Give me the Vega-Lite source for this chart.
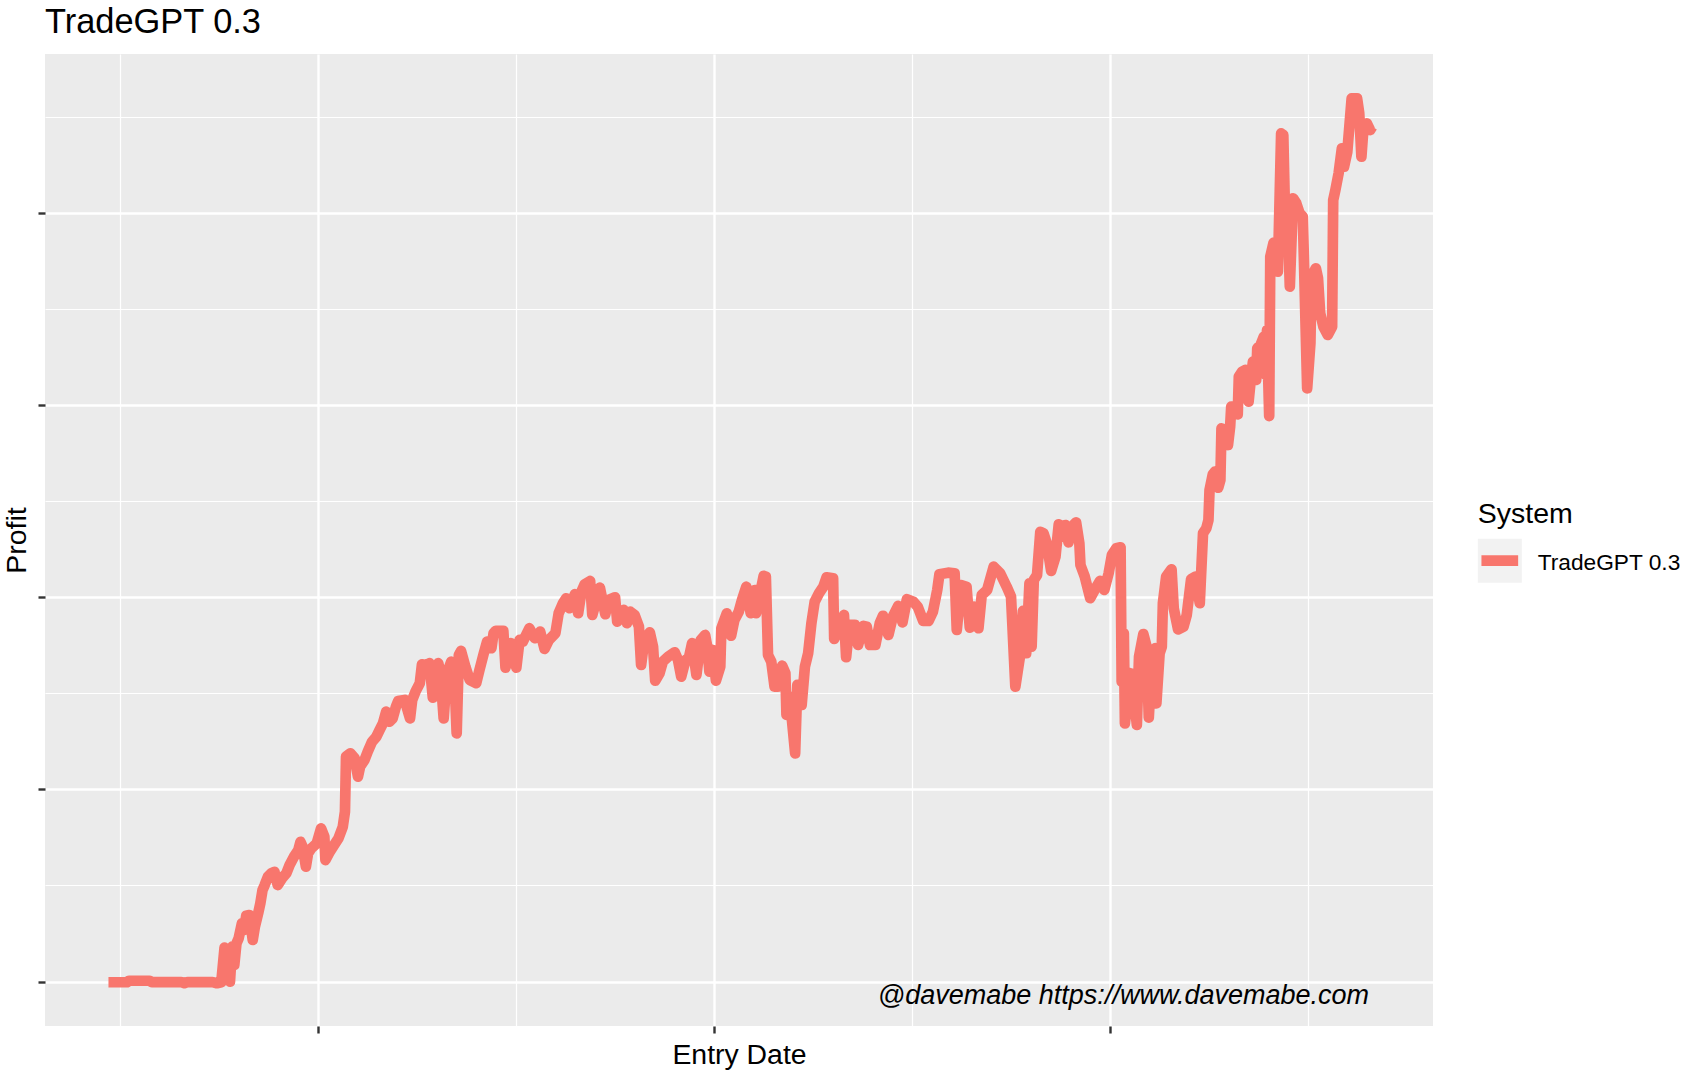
{
  "$schema": "https://vega.github.io/schema/vega-lite/v6.json",
  "autosize": "none",
  "width": 1388,
  "height": 972,
  "padding": {"left": 45, "top": 54, "right": 258, "bottom": 52},
  "background": "white",
  "title": {"text": "TradeGPT 0.3", "anchor": "start", "frame": "group", "font": "Liberation Sans", "fontSize": 34.4, "fontWeight": "normal", "color": "black", "offset": 14},
  "config": {
    "font": "Liberation Sans",
    "view": {"fill": "#EBEBEB", "stroke": null}
  },
  "data": {"values": [
    {"date":"2017-06-22","profit":-40,"System":"TradeGPT 0.3"},
    {"date":"2017-07-09","profit":-40,"System":"TradeGPT 0.3"},
    {"date":"2017-07-11","profit":40,"System":"TradeGPT 0.3"},
    {"date":"2017-07-30","profit":40,"System":"TradeGPT 0.3"},
    {"date":"2017-08-01","profit":-30,"System":"TradeGPT 0.3"},
    {"date":"2017-08-28","profit":-30,"System":"TradeGPT 0.3"},
    {"date":"2017-08-31","profit":-90,"System":"TradeGPT 0.3"},
    {"date":"2017-09-03","profit":-30,"System":"TradeGPT 0.3"},
    {"date":"2017-09-26","profit":-30,"System":"TradeGPT 0.3"},
    {"date":"2017-09-30","profit":-90,"System":"TradeGPT 0.3"},
    {"date":"2017-10-04","profit":-40,"System":"TradeGPT 0.3"},
    {"date":"2017-10-07","profit":1760,"System":"TradeGPT 0.3"},
    {"date":"2017-10-09","profit":1640,"System":"TradeGPT 0.3"},
    {"date":"2017-10-12","profit":-10,"System":"TradeGPT 0.3"},
    {"date":"2017-10-14","profit":1810,"System":"TradeGPT 0.3"},
    {"date":"2017-10-16","profit":860,"System":"TradeGPT 0.3"},
    {"date":"2017-10-18","profit":1990,"System":"TradeGPT 0.3"},
    {"date":"2017-10-20","profit":2250,"System":"TradeGPT 0.3"},
    {"date":"2017-10-23","profit":3030,"System":"TradeGPT 0.3"},
    {"date":"2017-10-25","profit":2680,"System":"TradeGPT 0.3"},
    {"date":"2017-10-27","profit":3420,"System":"TradeGPT 0.3"},
    {"date":"2017-10-30","profit":3460,"System":"TradeGPT 0.3"},
    {"date":"2017-11-02","profit":2160,"System":"TradeGPT 0.3"},
    {"date":"2017-11-04","profit":2850,"System":"TradeGPT 0.3"},
    {"date":"2017-11-07","profit":3550,"System":"TradeGPT 0.3"},
    {"date":"2017-11-09","profit":4070,"System":"TradeGPT 0.3"},
    {"date":"2017-11-11","profit":4760,"System":"TradeGPT 0.3"},
    {"date":"2017-11-13","profit":5020,"System":"TradeGPT 0.3"},
    {"date":"2017-11-16","profit":5450,"System":"TradeGPT 0.3"},
    {"date":"2017-11-19","profit":5630,"System":"TradeGPT 0.3"},
    {"date":"2017-11-22","profit":5710,"System":"TradeGPT 0.3"},
    {"date":"2017-11-25","profit":5020,"System":"TradeGPT 0.3"},
    {"date":"2017-11-29","profit":5370,"System":"TradeGPT 0.3"},
    {"date":"2017-12-03","profit":5630,"System":"TradeGPT 0.3"},
    {"date":"2017-12-06","profit":6060,"System":"TradeGPT 0.3"},
    {"date":"2017-12-10","profit":6490,"System":"TradeGPT 0.3"},
    {"date":"2017-12-14","profit":6840,"System":"TradeGPT 0.3"},
    {"date":"2017-12-16","profit":7270,"System":"TradeGPT 0.3"},
    {"date":"2017-12-18","profit":7010,"System":"TradeGPT 0.3"},
    {"date":"2017-12-21","profit":5970,"System":"TradeGPT 0.3"},
    {"date":"2017-12-23","profit":6670,"System":"TradeGPT 0.3"},
    {"date":"2017-12-26","profit":6930,"System":"TradeGPT 0.3"},
    {"date":"2017-12-31","profit":7190,"System":"TradeGPT 0.3"},
    {"date":"2018-01-04","profit":7970,"System":"TradeGPT 0.3"},
    {"date":"2018-01-07","profit":7530,"System":"TradeGPT 0.3"},
    {"date":"2018-01-08","profit":6320,"System":"TradeGPT 0.3"},
    {"date":"2018-01-12","profit":6750,"System":"TradeGPT 0.3"},
    {"date":"2018-01-17","profit":7190,"System":"TradeGPT 0.3"},
    {"date":"2018-01-20","profit":7450,"System":"TradeGPT 0.3"},
    {"date":"2018-01-24","profit":8050,"System":"TradeGPT 0.3"},
    {"date":"2018-01-26","profit":8830,"System":"TradeGPT 0.3"},
    {"date":"2018-01-27","profit":11700,"System":"TradeGPT 0.3"},
    {"date":"2018-01-31","profit":11870,"System":"TradeGPT 0.3"},
    {"date":"2018-02-04","profit":11610,"System":"TradeGPT 0.3"},
    {"date":"2018-02-07","profit":10660,"System":"TradeGPT 0.3"},
    {"date":"2018-02-09","profit":11180,"System":"TradeGPT 0.3"},
    {"date":"2018-02-13","profit":11520,"System":"TradeGPT 0.3"},
    {"date":"2018-02-16","profit":11960,"System":"TradeGPT 0.3"},
    {"date":"2018-02-20","profit":12480,"System":"TradeGPT 0.3"},
    {"date":"2018-02-24","profit":12740,"System":"TradeGPT 0.3"},
    {"date":"2018-02-27","profit":13090,"System":"TradeGPT 0.3"},
    {"date":"2018-03-02","profit":13430,"System":"TradeGPT 0.3"},
    {"date":"2018-03-05","profit":14040,"System":"TradeGPT 0.3"},
    {"date":"2018-03-08","profit":13520,"System":"TradeGPT 0.3"},
    {"date":"2018-03-11","profit":13690,"System":"TradeGPT 0.3"},
    {"date":"2018-03-14","profit":14300,"System":"TradeGPT 0.3"},
    {"date":"2018-03-16","profit":14590,"System":"TradeGPT 0.3"},
    {"date":"2018-03-22","profit":14650,"System":"TradeGPT 0.3"},
    {"date":"2018-03-27","profit":13690,"System":"TradeGPT 0.3"},
    {"date":"2018-03-29","profit":14650,"System":"TradeGPT 0.3"},
    {"date":"2018-04-01","profit":15080,"System":"TradeGPT 0.3"},
    {"date":"2018-04-05","profit":15520,"System":"TradeGPT 0.3"},
    {"date":"2018-04-07","profit":16500,"System":"TradeGPT 0.3"},
    {"date":"2018-04-11","profit":16470,"System":"TradeGPT 0.3"},
    {"date":"2018-04-14","profit":16560,"System":"TradeGPT 0.3"},
    {"date":"2018-04-17","profit":14770,"System":"TradeGPT 0.3"},
    {"date":"2018-04-20","profit":16380,"System":"TradeGPT 0.3"},
    {"date":"2018-04-22","profit":16560,"System":"TradeGPT 0.3"},
    {"date":"2018-04-24","profit":16040,"System":"TradeGPT 0.3"},
    {"date":"2018-04-27","profit":13690,"System":"TradeGPT 0.3"},
    {"date":"2018-04-30","profit":16040,"System":"TradeGPT 0.3"},
    {"date":"2018-05-04","profit":16640,"System":"TradeGPT 0.3"},
    {"date":"2018-05-07","profit":15690,"System":"TradeGPT 0.3"},
    {"date":"2018-05-09","profit":12910,"System":"TradeGPT 0.3"},
    {"date":"2018-05-11","profit":16990,"System":"TradeGPT 0.3"},
    {"date":"2018-05-13","profit":17200,"System":"TradeGPT 0.3"},
    {"date":"2018-05-17","profit":16380,"System":"TradeGPT 0.3"},
    {"date":"2018-05-21","profit":15690,"System":"TradeGPT 0.3"},
    {"date":"2018-05-27","profit":15520,"System":"TradeGPT 0.3"},
    {"date":"2018-05-30","profit":16210,"System":"TradeGPT 0.3"},
    {"date":"2018-06-03","profit":17080,"System":"TradeGPT 0.3"},
    {"date":"2018-06-06","profit":17680,"System":"TradeGPT 0.3"},
    {"date":"2018-06-10","profit":17340,"System":"TradeGPT 0.3"},
    {"date":"2018-06-12","profit":18120,"System":"TradeGPT 0.3"},
    {"date":"2018-06-14","profit":18250,"System":"TradeGPT 0.3"},
    {"date":"2018-06-21","profit":18250,"System":"TradeGPT 0.3"},
    {"date":"2018-06-23","profit":16330,"System":"TradeGPT 0.3"},
    {"date":"2018-06-28","profit":17600,"System":"TradeGPT 0.3"},
    {"date":"2018-07-03","profit":16330,"System":"TradeGPT 0.3"},
    {"date":"2018-07-06","profit":17770,"System":"TradeGPT 0.3"},
    {"date":"2018-07-09","profit":17680,"System":"TradeGPT 0.3"},
    {"date":"2018-07-15","profit":18380,"System":"TradeGPT 0.3"},
    {"date":"2018-07-20","profit":17860,"System":"TradeGPT 0.3"},
    {"date":"2018-07-25","profit":18200,"System":"TradeGPT 0.3"},
    {"date":"2018-07-29","profit":17300,"System":"TradeGPT 0.3"},
    {"date":"2018-08-02","profit":17770,"System":"TradeGPT 0.3"},
    {"date":"2018-08-08","profit":18120,"System":"TradeGPT 0.3"},
    {"date":"2018-08-11","profit":19160,"System":"TradeGPT 0.3"},
    {"date":"2018-08-15","profit":19680,"System":"TradeGPT 0.3"},
    {"date":"2018-08-18","profit":19940,"System":"TradeGPT 0.3"},
    {"date":"2018-08-21","profit":19420,"System":"TradeGPT 0.3"},
    {"date":"2018-08-26","profit":20150,"System":"TradeGPT 0.3"},
    {"date":"2018-08-29","profit":19160,"System":"TradeGPT 0.3"},
    {"date":"2018-09-01","profit":20280,"System":"TradeGPT 0.3"},
    {"date":"2018-09-04","profit":20670,"System":"TradeGPT 0.3"},
    {"date":"2018-09-09","profit":20840,"System":"TradeGPT 0.3"},
    {"date":"2018-09-11","profit":19070,"System":"TradeGPT 0.3"},
    {"date":"2018-09-18","profit":20490,"System":"TradeGPT 0.3"},
    {"date":"2018-09-23","profit":19110,"System":"TradeGPT 0.3"},
    {"date":"2018-09-26","profit":19850,"System":"TradeGPT 0.3"},
    {"date":"2018-10-02","profit":19990,"System":"TradeGPT 0.3"},
    {"date":"2018-10-04","profit":18720,"System":"TradeGPT 0.3"},
    {"date":"2018-10-07","profit":19240,"System":"TradeGPT 0.3"},
    {"date":"2018-10-10","profit":19330,"System":"TradeGPT 0.3"},
    {"date":"2018-10-13","profit":18640,"System":"TradeGPT 0.3"},
    {"date":"2018-10-16","profit":19240,"System":"TradeGPT 0.3"},
    {"date":"2018-10-20","profit":19070,"System":"TradeGPT 0.3"},
    {"date":"2018-10-24","profit":18460,"System":"TradeGPT 0.3"},
    {"date":"2018-10-26","profit":16470,"System":"TradeGPT 0.3"},
    {"date":"2018-10-29","profit":17770,"System":"TradeGPT 0.3"},
    {"date":"2018-11-03","profit":18170,"System":"TradeGPT 0.3"},
    {"date":"2018-11-06","profit":17420,"System":"TradeGPT 0.3"},
    {"date":"2018-11-08","profit":15650,"System":"TradeGPT 0.3"},
    {"date":"2018-11-12","profit":16040,"System":"TradeGPT 0.3"},
    {"date":"2018-11-15","profit":16640,"System":"TradeGPT 0.3"},
    {"date":"2018-11-20","profit":16900,"System":"TradeGPT 0.3"},
    {"date":"2018-11-26","profit":17130,"System":"TradeGPT 0.3"},
    {"date":"2018-11-29","profit":16730,"System":"TradeGPT 0.3"},
    {"date":"2018-12-02","profit":15860,"System":"TradeGPT 0.3"},
    {"date":"2018-12-06","profit":16730,"System":"TradeGPT 0.3"},
    {"date":"2018-12-09","profit":16820,"System":"TradeGPT 0.3"},
    {"date":"2018-12-12","profit":17600,"System":"TradeGPT 0.3"},
    {"date":"2018-12-16","profit":15950,"System":"TradeGPT 0.3"},
    {"date":"2018-12-20","profit":17770,"System":"TradeGPT 0.3"},
    {"date":"2018-12-24","profit":18030,"System":"TradeGPT 0.3"},
    {"date":"2018-12-26","profit":17420,"System":"TradeGPT 0.3"},
    {"date":"2018-12-28","profit":16120,"System":"TradeGPT 0.3"},
    {"date":"2018-12-31","profit":17250,"System":"TradeGPT 0.3"},
    {"date":"2019-01-03","profit":15650,"System":"TradeGPT 0.3"},
    {"date":"2019-01-07","profit":16380,"System":"TradeGPT 0.3"},
    {"date":"2019-01-08","profit":18380,"System":"TradeGPT 0.3"},
    {"date":"2019-01-13","profit":19160,"System":"TradeGPT 0.3"},
    {"date":"2019-01-17","profit":17990,"System":"TradeGPT 0.3"},
    {"date":"2019-01-20","profit":18810,"System":"TradeGPT 0.3"},
    {"date":"2019-01-24","profit":19240,"System":"TradeGPT 0.3"},
    {"date":"2019-01-27","profit":19850,"System":"TradeGPT 0.3"},
    {"date":"2019-01-31","profit":20540,"System":"TradeGPT 0.3"},
    {"date":"2019-02-04","profit":19160,"System":"TradeGPT 0.3"},
    {"date":"2019-02-08","profit":20370,"System":"TradeGPT 0.3"},
    {"date":"2019-02-09","profit":19160,"System":"TradeGPT 0.3"},
    {"date":"2019-02-16","profit":21110,"System":"TradeGPT 0.3"},
    {"date":"2019-02-18","profit":21060,"System":"TradeGPT 0.3"},
    {"date":"2019-02-20","profit":16990,"System":"TradeGPT 0.3"},
    {"date":"2019-02-23","profit":16640,"System":"TradeGPT 0.3"},
    {"date":"2019-02-26","profit":15340,"System":"TradeGPT 0.3"},
    {"date":"2019-03-01","profit":15340,"System":"TradeGPT 0.3"},
    {"date":"2019-03-05","profit":16430,"System":"TradeGPT 0.3"},
    {"date":"2019-03-08","profit":16040,"System":"TradeGPT 0.3"},
    {"date":"2019-03-09","profit":13870,"System":"TradeGPT 0.3"},
    {"date":"2019-03-12","profit":14820,"System":"TradeGPT 0.3"},
    {"date":"2019-03-17","profit":11870,"System":"TradeGPT 0.3"},
    {"date":"2019-03-19","profit":15430,"System":"TradeGPT 0.3"},
    {"date":"2019-03-23","profit":14390,"System":"TradeGPT 0.3"},
    {"date":"2019-03-26","profit":16380,"System":"TradeGPT 0.3"},
    {"date":"2019-03-29","profit":17080,"System":"TradeGPT 0.3"},
    {"date":"2019-04-01","profit":18640,"System":"TradeGPT 0.3"},
    {"date":"2019-04-04","profit":19760,"System":"TradeGPT 0.3"},
    {"date":"2019-04-08","profit":20200,"System":"TradeGPT 0.3"},
    {"date":"2019-04-12","profit":20540,"System":"TradeGPT 0.3"},
    {"date":"2019-04-15","profit":21030,"System":"TradeGPT 0.3"},
    {"date":"2019-04-21","profit":20980,"System":"TradeGPT 0.3"},
    {"date":"2019-04-22","profit":17820,"System":"TradeGPT 0.3"},
    {"date":"2019-04-26","profit":18290,"System":"TradeGPT 0.3"},
    {"date":"2019-05-01","profit":19070,"System":"TradeGPT 0.3"},
    {"date":"2019-05-03","profit":16870,"System":"TradeGPT 0.3"},
    {"date":"2019-05-06","profit":18550,"System":"TradeGPT 0.3"},
    {"date":"2019-05-11","profit":18550,"System":"TradeGPT 0.3"},
    {"date":"2019-05-14","profit":17510,"System":"TradeGPT 0.3"},
    {"date":"2019-05-19","profit":18500,"System":"TradeGPT 0.3"},
    {"date":"2019-05-22","profit":18460,"System":"TradeGPT 0.3"},
    {"date":"2019-05-25","profit":17510,"System":"TradeGPT 0.3"},
    {"date":"2019-05-30","profit":17510,"System":"TradeGPT 0.3"},
    {"date":"2019-06-03","profit":18640,"System":"TradeGPT 0.3"},
    {"date":"2019-06-06","profit":19030,"System":"TradeGPT 0.3"},
    {"date":"2019-06-11","profit":18030,"System":"TradeGPT 0.3"},
    {"date":"2019-06-15","profit":18980,"System":"TradeGPT 0.3"},
    {"date":"2019-06-20","profit":19540,"System":"TradeGPT 0.3"},
    {"date":"2019-06-24","profit":18690,"System":"TradeGPT 0.3"},
    {"date":"2019-06-28","profit":19890,"System":"TradeGPT 0.3"},
    {"date":"2019-07-04","profit":19760,"System":"TradeGPT 0.3"},
    {"date":"2019-07-08","profit":19500,"System":"TradeGPT 0.3"},
    {"date":"2019-07-13","profit":18760,"System":"TradeGPT 0.3"},
    {"date":"2019-07-18","profit":18760,"System":"TradeGPT 0.3"},
    {"date":"2019-07-22","profit":19240,"System":"TradeGPT 0.3"},
    {"date":"2019-07-26","profit":20370,"System":"TradeGPT 0.3"},
    {"date":"2019-07-28","profit":21190,"System":"TradeGPT 0.3"},
    {"date":"2019-08-05","profit":21270,"System":"TradeGPT 0.3"},
    {"date":"2019-08-11","profit":21240,"System":"TradeGPT 0.3"},
    {"date":"2019-08-13","profit":18290,"System":"TradeGPT 0.3"},
    {"date":"2019-08-17","profit":20630,"System":"TradeGPT 0.3"},
    {"date":"2019-08-22","profit":20540,"System":"TradeGPT 0.3"},
    {"date":"2019-08-25","profit":18410,"System":"TradeGPT 0.3"},
    {"date":"2019-08-29","profit":19500,"System":"TradeGPT 0.3"},
    {"date":"2019-09-02","profit":18380,"System":"TradeGPT 0.3"},
    {"date":"2019-09-05","profit":20110,"System":"TradeGPT 0.3"},
    {"date":"2019-09-10","profit":20370,"System":"TradeGPT 0.3"},
    {"date":"2019-09-16","profit":21580,"System":"TradeGPT 0.3"},
    {"date":"2019-09-22","profit":21240,"System":"TradeGPT 0.3"},
    {"date":"2019-09-28","profit":20540,"System":"TradeGPT 0.3"},
    {"date":"2019-10-02","profit":20020,"System":"TradeGPT 0.3"},
    {"date":"2019-10-06","profit":15340,"System":"TradeGPT 0.3"},
    {"date":"2019-10-10","profit":16820,"System":"TradeGPT 0.3"},
    {"date":"2019-10-13","profit":19280,"System":"TradeGPT 0.3"},
    {"date":"2019-10-16","profit":17080,"System":"TradeGPT 0.3"},
    {"date":"2019-10-19","profit":20720,"System":"TradeGPT 0.3"},
    {"date":"2019-10-21","profit":17420,"System":"TradeGPT 0.3"},
    {"date":"2019-10-23","profit":20890,"System":"TradeGPT 0.3"},
    {"date":"2019-10-26","profit":21150,"System":"TradeGPT 0.3"},
    {"date":"2019-10-29","profit":23400,"System":"TradeGPT 0.3"},
    {"date":"2019-11-01","profit":23320,"System":"TradeGPT 0.3"},
    {"date":"2019-11-04","profit":22800,"System":"TradeGPT 0.3"},
    {"date":"2019-11-08","profit":21360,"System":"TradeGPT 0.3"},
    {"date":"2019-11-12","profit":22100,"System":"TradeGPT 0.3"},
    {"date":"2019-11-15","profit":23790,"System":"TradeGPT 0.3"},
    {"date":"2019-11-18","profit":23140,"System":"TradeGPT 0.3"},
    {"date":"2019-11-21","profit":23750,"System":"TradeGPT 0.3"},
    {"date":"2019-11-24","profit":22850,"System":"TradeGPT 0.3"},
    {"date":"2019-11-27","profit":23660,"System":"TradeGPT 0.3"},
    {"date":"2019-12-01","profit":23890,"System":"TradeGPT 0.3"},
    {"date":"2019-12-04","profit":22800,"System":"TradeGPT 0.3"},
    {"date":"2019-12-05","profit":21670,"System":"TradeGPT 0.3"},
    {"date":"2019-12-09","profit":21060,"System":"TradeGPT 0.3"},
    {"date":"2019-12-14","profit":19940,"System":"TradeGPT 0.3"},
    {"date":"2019-12-19","profit":20460,"System":"TradeGPT 0.3"},
    {"date":"2019-12-23","profit":20840,"System":"TradeGPT 0.3"},
    {"date":"2019-12-27","profit":20370,"System":"TradeGPT 0.3"},
    {"date":"2019-12-31","profit":21240,"System":"TradeGPT 0.3"},
    {"date":"2020-01-03","profit":22190,"System":"TradeGPT 0.3"},
    {"date":"2020-01-07","profit":22540,"System":"TradeGPT 0.3"},
    {"date":"2020-01-11","profit":22590,"System":"TradeGPT 0.3"},
    {"date":"2020-01-12","profit":15600,"System":"TradeGPT 0.3"},
    {"date":"2020-01-14","profit":18120,"System":"TradeGPT 0.3"},
    {"date":"2020-01-15","profit":13430,"System":"TradeGPT 0.3"},
    {"date":"2020-01-20","profit":16040,"System":"TradeGPT 0.3"},
    {"date":"2020-01-23","profit":15000,"System":"TradeGPT 0.3"},
    {"date":"2020-01-26","profit":13350,"System":"TradeGPT 0.3"},
    {"date":"2020-01-28","profit":16900,"System":"TradeGPT 0.3"},
    {"date":"2020-02-01","profit":18080,"System":"TradeGPT 0.3"},
    {"date":"2020-02-04","profit":17420,"System":"TradeGPT 0.3"},
    {"date":"2020-02-06","profit":13730,"System":"TradeGPT 0.3"},
    {"date":"2020-02-09","profit":16900,"System":"TradeGPT 0.3"},
    {"date":"2020-02-12","profit":17340,"System":"TradeGPT 0.3"},
    {"date":"2020-02-13","profit":14470,"System":"TradeGPT 0.3"},
    {"date":"2020-02-16","profit":17080,"System":"TradeGPT 0.3"},
    {"date":"2020-02-18","profit":17420,"System":"TradeGPT 0.3"},
    {"date":"2020-02-19","profit":19680,"System":"TradeGPT 0.3"},
    {"date":"2020-02-22","profit":21060,"System":"TradeGPT 0.3"},
    {"date":"2020-02-27","profit":21450,"System":"TradeGPT 0.3"},
    {"date":"2020-02-29","profit":19420,"System":"TradeGPT 0.3"},
    {"date":"2020-03-04","profit":18320,"System":"TradeGPT 0.3"},
    {"date":"2020-03-09","profit":18460,"System":"TradeGPT 0.3"},
    {"date":"2020-03-12","profit":19070,"System":"TradeGPT 0.3"},
    {"date":"2020-03-16","profit":20930,"System":"TradeGPT 0.3"},
    {"date":"2020-03-20","profit":21060,"System":"TradeGPT 0.3"},
    {"date":"2020-03-24","profit":19680,"System":"TradeGPT 0.3"},
    {"date":"2020-03-27","profit":23320,"System":"TradeGPT 0.3"},
    {"date":"2020-03-30","profit":23580,"System":"TradeGPT 0.3"},
    {"date":"2020-04-01","profit":24010,"System":"TradeGPT 0.3"},
    {"date":"2020-04-02","profit":25570,"System":"TradeGPT 0.3"},
    {"date":"2020-04-05","profit":26390,"System":"TradeGPT 0.3"},
    {"date":"2020-04-07","profit":26530,"System":"TradeGPT 0.3"},
    {"date":"2020-04-10","profit":25690,"System":"TradeGPT 0.3"},
    {"date":"2020-04-12","profit":26090,"System":"TradeGPT 0.3"},
    {"date":"2020-04-13","profit":28780,"System":"TradeGPT 0.3"},
    {"date":"2020-04-17","profit":28690,"System":"TradeGPT 0.3"},
    {"date":"2020-04-19","profit":27910,"System":"TradeGPT 0.3"},
    {"date":"2020-04-21","profit":28870,"System":"TradeGPT 0.3"},
    {"date":"2020-04-22","profit":29910,"System":"TradeGPT 0.3"},
    {"date":"2020-04-26","profit":29910,"System":"TradeGPT 0.3"},
    {"date":"2020-04-28","profit":29510,"System":"TradeGPT 0.3"},
    {"date":"2020-04-29","profit":31470,"System":"TradeGPT 0.3"},
    {"date":"2020-05-02","profit":31730,"System":"TradeGPT 0.3"},
    {"date":"2020-05-05","profit":31820,"System":"TradeGPT 0.3"},
    {"date":"2020-05-08","profit":30170,"System":"TradeGPT 0.3"},
    {"date":"2020-05-10","profit":31300,"System":"TradeGPT 0.3"},
    {"date":"2020-05-12","profit":32250,"System":"TradeGPT 0.3"},
    {"date":"2020-05-15","profit":31300,"System":"TradeGPT 0.3"},
    {"date":"2020-05-16","profit":32950,"System":"TradeGPT 0.3"},
    {"date":"2020-05-19","profit":33120,"System":"TradeGPT 0.3"},
    {"date":"2020-05-22","profit":33550,"System":"TradeGPT 0.3"},
    {"date":"2020-05-23","profit":31590,"System":"TradeGPT 0.3"},
    {"date":"2020-05-25","profit":33900,"System":"TradeGPT 0.3"},
    {"date":"2020-05-27","profit":29420,"System":"TradeGPT 0.3"},
    {"date":"2020-05-28","profit":37710,"System":"TradeGPT 0.3"},
    {"date":"2020-05-31","profit":38440,"System":"TradeGPT 0.3"},
    {"date":"2020-06-03","profit":38230,"System":"TradeGPT 0.3"},
    {"date":"2020-06-04","profit":36930,"System":"TradeGPT 0.3"},
    {"date":"2020-06-07","profit":44130,"System":"TradeGPT 0.3"},
    {"date":"2020-06-09","profit":44040,"System":"TradeGPT 0.3"},
    {"date":"2020-06-11","profit":38930,"System":"TradeGPT 0.3"},
    {"date":"2020-06-13","profit":39970,"System":"TradeGPT 0.3"},
    {"date":"2020-06-15","profit":36150,"System":"TradeGPT 0.3"},
    {"date":"2020-06-18","profit":40750,"System":"TradeGPT 0.3"},
    {"date":"2020-06-21","profit":40490,"System":"TradeGPT 0.3"},
    {"date":"2020-06-24","profit":39970,"System":"TradeGPT 0.3"},
    {"date":"2020-06-27","profit":39790,"System":"TradeGPT 0.3"},
    {"date":"2020-07-01","profit":30860,"System":"TradeGPT 0.3"},
    {"date":"2020-07-04","profit":33210,"System":"TradeGPT 0.3"},
    {"date":"2020-07-05","profit":36670,"System":"TradeGPT 0.3"},
    {"date":"2020-07-09","profit":37110,"System":"TradeGPT 0.3"},
    {"date":"2020-07-11","profit":36590,"System":"TradeGPT 0.3"},
    {"date":"2020-07-13","profit":34770,"System":"TradeGPT 0.3"},
    {"date":"2020-07-16","profit":34070,"System":"TradeGPT 0.3"},
    {"date":"2020-07-20","profit":33640,"System":"TradeGPT 0.3"},
    {"date":"2020-07-24","profit":34070,"System":"TradeGPT 0.3"},
    {"date":"2020-07-25","profit":40660,"System":"TradeGPT 0.3"},
    {"date":"2020-07-27","profit":41180,"System":"TradeGPT 0.3"},
    {"date":"2020-07-30","profit":42050,"System":"TradeGPT 0.3"},
    {"date":"2020-08-02","profit":43350,"System":"TradeGPT 0.3"},
    {"date":"2020-08-04","profit":42390,"System":"TradeGPT 0.3"},
    {"date":"2020-08-07","profit":43170,"System":"TradeGPT 0.3"},
    {"date":"2020-08-11","profit":45950,"System":"TradeGPT 0.3"},
    {"date":"2020-08-16","profit":45950,"System":"TradeGPT 0.3"},
    {"date":"2020-08-18","profit":45170,"System":"TradeGPT 0.3"},
    {"date":"2020-08-20","profit":42910,"System":"TradeGPT 0.3"},
    {"date":"2020-08-22","profit":44480,"System":"TradeGPT 0.3"},
    {"date":"2020-08-25","profit":44650,"System":"TradeGPT 0.3"},
    {"date":"2020-08-28","profit":44300,"System":"TradeGPT 0.3"},
    {"date":"2020-08-30","profit":44480,"System":"TradeGPT 0.3"}
  ]},
  "encoding": {
    "x": {
      "field": "date", "type": "temporal",
      "scale": {"type": "utc", "domain": [{"year": 2017, "month": 4, "date": 24, "hours": 12, "utc": true}, {"year": 2020, "month": 10, "date": 25, "utc": true}], "nice": false},
      "axis": {
        "title": "Entry Date",
        "values": [
          {"year": 2017, "month": 7, "date": 2, "hours": 12, "utc": true},
          {"year": 2018, "month": 1, "date": 1, "utc": true},
          {"year": 2018, "month": 7, "date": 2, "hours": 12, "utc": true},
          {"year": 2019, "month": 1, "date": 1, "utc": true},
          {"year": 2019, "month": 7, "date": 2, "hours": 12, "utc": true},
          {"year": 2020, "month": 1, "date": 1, "utc": true},
          {"year": 2020, "month": 7, "date": 2, "utc": true}
        ],
        "labels": false,
        "domain": false,
        "grid": true,
        "gridColor": "white",
        "gridOpacity": 1,
        "gridWidth": {"condition": {"test": "utcmonth(datum.value) === 0", "value": 2.4}, "value": 1.2},
        "ticks": true,
        "tickColor": "#333333",
        "tickWidth": 2.4,
        "tickSize": 7,
        "tickOpacity": {"condition": {"test": "utcmonth(datum.value) === 0", "value": 1}, "value": 0},
        "titleFont": "Liberation Sans",
        "titleFontSize": 28.4,
        "titleFontWeight": "normal",
        "titleColor": "black",
        "titleAlign": "center",
        "titleBaseline": "alphabetic",
        "titleX": 694,
        "titleY": 37.5
      }
    },
    "y": {
      "field": "profit", "type": "quantitative",
      "scale": {"domain": [-2315, 48257], "nice": false, "zero": false},
      "axis": {
        "title": "Profit",
        "values": [0, 5000, 10000, 15000, 20000, 25000, 30000, 35000, 40000, 45000],
        "labels": false,
        "domain": false,
        "grid": true,
        "gridColor": "white",
        "gridOpacity": 1,
        "gridWidth": {"condition": {"test": "datum.value % 10000 === 0", "value": 2.4}, "value": 1.2},
        "ticks": true,
        "tickColor": "#333333",
        "tickWidth": 2.4,
        "tickSize": 7,
        "tickOpacity": {"condition": {"test": "datum.value % 10000 === 0", "value": 1}, "value": 0},
        "titleFont": "Liberation Sans",
        "titleFontSize": 28.4,
        "titleFontWeight": "normal",
        "titleColor": "black",
        "titleAngle": 270,
        "titleAlign": "center",
        "titleBaseline": "alphabetic",
        "titleX": -20,
        "titleY": 486
      }
    }
  },
  "layer": [
    {
      "data": {"values": [{"date": "2020-08-30", "profit": 44480, "Key": "TradeGPT 0.3"}]},
      "mark": {"type": "point", "filled": true, "opacity": 0, "size": 4},
      "encoding": {
        "fill": {
          "field": "Key", "type": "nominal",
          "scale": {"range": ["#F2F2F2"]},
          "legend": {
            "orient": "none", "legendX": 1432.8, "legendY": 445.8, "zindex": 0,
            "padding": 0, "offset": 0,
            "title": "System",
            "titleFont": "Liberation Sans", "titleFontSize": 28.5, "titleFontWeight": "normal", "titleColor": "black",
            "titlePadding": 10.4,
            "symbolType": "square", "symbolSize": 1936, "symbolStrokeWidth": 0, "symbolStrokeColor": "transparent", "symbolOpacity": 1, "symbolFillColor": "#F2F2F2",
            "labelFont": "Liberation Sans", "labelFontSize": 22.7, "labelColor": "black", "labelOffset": 16,
            "encode": {"symbols": {"update": {"opacity": {"value": 1}, "fill": {"value": "#F2F2F2"}, "fillOpacity": {"value": 1}}}, "labels": {"update": {"dy": {"value": 2.5}}}}
          }
        }
      }
    },
    {
      "mark": {"type": "line", "strokeWidth": 10.7, "strokeJoin": "round", "strokeCap": "butt"},
      "encoding": {
        "color": {
          "field": "System", "type": "nominal",
          "scale": {"range": ["#F8766D"]},
          "legend": {
            "orient": "none", "legendX": 1430.8, "legendY": 482.7, "zindex": 1,
            "padding": 0, "offset": 0,
            "title": null,
            "symbolType": "stroke", "symbolSize": 1347, "symbolStrokeWidth": 10.7,
            "labelFontSize": 10, "labelOpacity": 0, "labelExpr": "''"
          }
        }
      }
    },
    {
      "data": {"values": [{"date": "2020-08-27", "profit": -1170, "note": "@davemabe https://www.davemabe.com"}]},
      "mark": {"type": "text", "align": "right", "baseline": "alphabetic", "fontStyle": "italic", "fontSize": 27, "font": "Liberation Sans", "color": "black"},
      "encoding": {"text": {"field": "note", "type": "nominal"}}
    }
  ]
}
